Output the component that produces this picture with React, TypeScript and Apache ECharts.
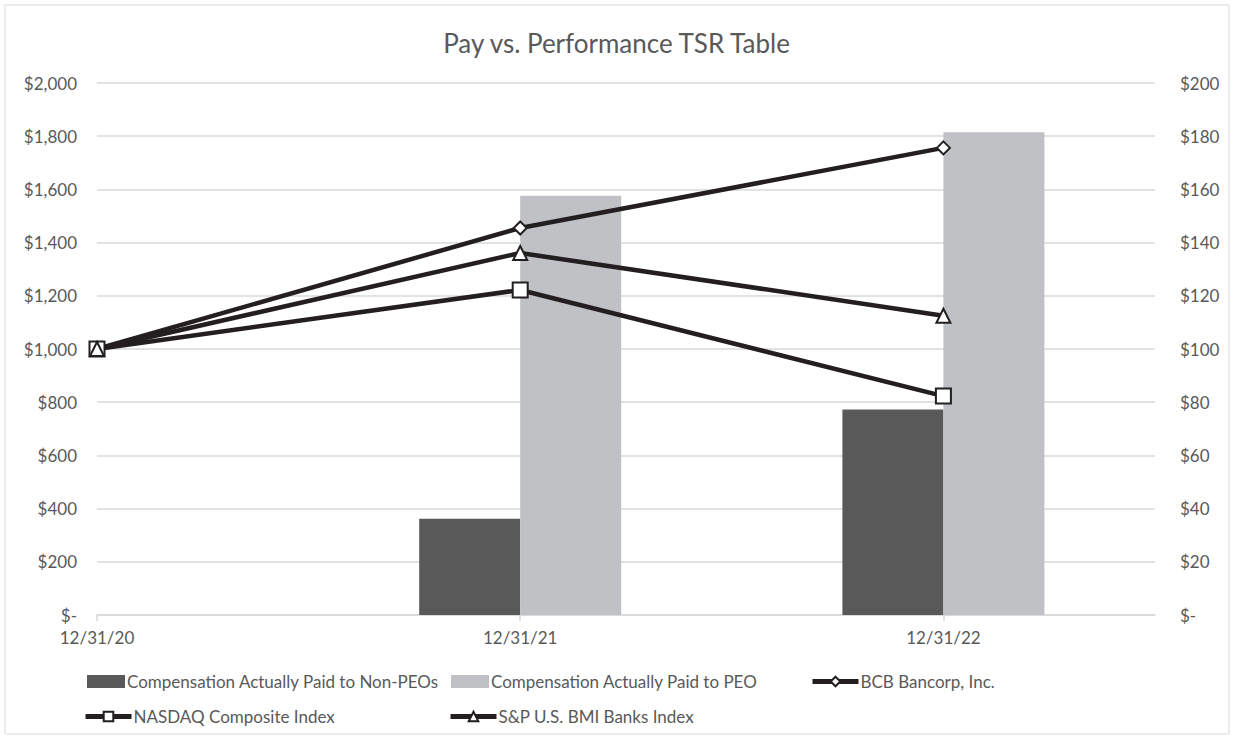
import React, { useEffect, useRef } from "react";
import * as echarts from "echarts";

const dateLabels = ["12/31/20", "12/31/21", "12/31/22"];
const nonPeoComp = [null, 362, 773];
const peoComp = [null, 1576, 1815];
const bcb = [100, 145.5, 175.6];
const nasdaq = [100, 122.2, 82.3];
const spBanks = [100, 136.1, 112.5];

const seriesNames = [
  "Compensation Actually Paid to Non-PEOs",
  "Compensation Actually Paid to PEO",
  "BCB Bancorp, Inc.",
  "NASDAQ Composite Index",
  "S&P U.S. BMI Banks Index",
];

const FONT = "Lato";
const TXT = "#595959";
const LINE = "#231f20";

const money = (v: number) => (v === 0 ? "$-" : "$" + v.toLocaleString("en-US"));

const pairs = (arr: (number | null)[]) =>
  arr.map((v, i) => [i, v]).filter((p) => p[1] !== null);

export default function App() {
  const ref = useRef<HTMLDivElement>(null);
  useEffect(() => {
    const chart = echarts.init(ref.current!, null, { renderer: "svg" });
    const lineSeries = (name: string, data: number[], symbol: string, size: number) => ({
      name,
      type: "line",
      yAxisIndex: 1,
      data: pairs(data),
      symbol,
      symbolSize: size,
      showAllSymbol: true,
      lineStyle: { color: LINE, width: 4.5 },
      itemStyle: { color: "#ffffff", borderColor: LINE, borderWidth: 2 },
      z: 5,
    });
    const legendItem = (name: string, left: number, top: number, w: number, isBar: boolean) => ({
      data: [isBar ? { name, icon: "rect" } : name],
      left,
      top,
      itemWidth: w,
      itemHeight: isBar ? 13 : 12,
      itemGap: 3,
      lineStyle: { width: 5, color: LINE },
      textStyle: { fontFamily: FONT, fontSize: 17, color: TXT, padding: [0, 0, 0, -3] },
    });
    chart.setOption({
      animation: false,
      textStyle: { fontFamily: FONT },
      title: {
        text: "Pay vs. Performance TSR Table",
        left: "center",
        top: 25,
        textStyle: { fontFamily: FONT, fontSize: 26, fontWeight: "normal", color: TXT },
      },
      graphic: [
        {
          type: "rect",
          shape: { x: 5, y: 5, width: 1224, height: 729 },
          style: { fill: "none", stroke: "#d9d9d9", lineWidth: 1 },
          silent: true,
        },
      ],
      grid: { left: 97, right: 78, top: 83, bottom: 125 },
      legend: [
        legendItem(seriesNames[0], 82, 668, 38, true),
        legendItem(seriesNames[1], 446, 668, 38, true),
        legendItem(seriesNames[2], 805, 668, 46, false),
        legendItem(seriesNames[3], 78, 703, 46, false),
        legendItem(seriesNames[4], 443, 703, 46, false),
      ],
      xAxis: {
        type: "value",
        min: 0,
        max: 2.5,
        interval: 1,
        axisLine: { show: true, lineStyle: { color: "#d9d9d9", width: 1.5 } },
        axisTick: { show: true, length: 6, lineStyle: { color: "#d9d9d9", width: 1.5 } },
        splitLine: { show: false },
        axisLabel: {
          fontFamily: FONT,
          fontSize: 17,
          color: TXT,
          margin: 14,
          showMaxLabel: false,
          formatter: (v: number) => (Number.isInteger(v) ? dateLabels[v] ?? "" : ""),
        },
      },
      yAxis: [
        {
          type: "value",
          min: 0,
          max: 2000,
          interval: 200,
          axisLine: { show: false },
          axisTick: { show: false },
          splitLine: { lineStyle: { color: "#d9d9d9", width: 1.5 } },
          axisLabel: { fontFamily: FONT, fontSize: 17, color: TXT, margin: 20, formatter: money },
        },
        {
          type: "value",
          min: 0,
          max: 200,
          interval: 20,
          position: "right",
          axisLine: { show: false },
          axisTick: { show: false },
          splitLine: { show: false },
          axisLabel: {
            fontFamily: FONT,
            fontSize: 17,
            color: TXT,
            margin: 25,
            align: "left",
            formatter: money,
          },
        },
      ],
      series: [
        {
          name: seriesNames[0],
          type: "bar",
          data: pairs(nonPeoComp),
          barWidth: 101,
          barGap: "0%",
          itemStyle: { color: "#595959" },
        },
        {
          name: seriesNames[1],
          type: "bar",
          data: pairs(peoComp),
          barWidth: 101,
          barGap: "0%",
          itemStyle: { color: "#c0c1c4" },
        },
        lineSeries(seriesNames[2], bcb as number[], "diamond", 13),
        lineSeries(seriesNames[3], nasdaq as number[], "rect", 15),
        lineSeries(seriesNames[4], spBanks as number[], "triangle", 14),
      ],
    });
    return () => chart.dispose();
  }, []);
  return (
    <div
      ref={ref}
      style={{ position: "fixed", left: 0, top: 0, width: 1233, height: 740, background: "#fff" }}
    />
  );
}
